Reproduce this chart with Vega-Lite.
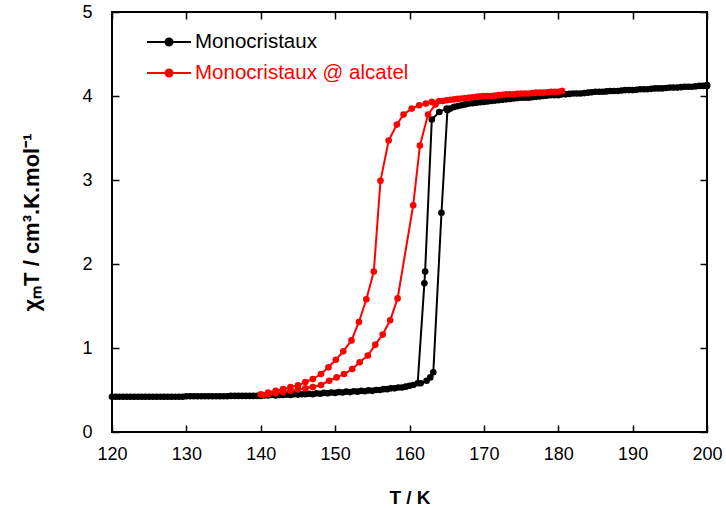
{
  "$schema": "https://vega.github.io/schema/vega-lite/v6.json",
  "width": 595,
  "height": 420,
  "autosize": "none",
  "padding": {"left": 112, "top": 12, "right": 19, "bottom": 76},
  "background": "white",
  "config": {
    "font": "Liberation Sans",
    "view": {"stroke": "#000000", "strokeWidth": 2},
    "axis": {"domain": false, "grid": false, "tickColor": "#000000", "tickWidth": 1.5, "labelColor": "#000000", "titleColor": "#000000", "labelFontSize": 18, "titleFontSize": 19, "titleFontWeight": "bold", "labelFlush": false}
  },
  "datasets": {
    "mono": [
      {"s": "Monocristaux", "T": 200, "v": 4.12}, {"s": "Monocristaux", "T": 199, "v": 4.12}, {"s": "Monocristaux", "T": 198, "v": 4.11}, {"s": "Monocristaux", "T": 197, "v": 4.11}, {"s": "Monocristaux", "T": 196, "v": 4.10}, {"s": "Monocristaux", "T": 195, "v": 4.10}, {"s": "Monocristaux", "T": 194, "v": 4.09}, {"s": "Monocristaux", "T": 193, "v": 4.09}, {"s": "Monocristaux", "T": 192, "v": 4.08}, {"s": "Monocristaux", "T": 191, "v": 4.08}, {"s": "Monocristaux", "T": 190, "v": 4.07}, {"s": "Monocristaux", "T": 189, "v": 4.07}, {"s": "Monocristaux", "T": 188, "v": 4.06}, {"s": "Monocristaux", "T": 187, "v": 4.06}, {"s": "Monocristaux", "T": 186, "v": 4.05}, {"s": "Monocristaux", "T": 185, "v": 4.05}, {"s": "Monocristaux", "T": 184, "v": 4.04}, {"s": "Monocristaux", "T": 183, "v": 4.03}, {"s": "Monocristaux", "T": 182, "v": 4.03}, {"s": "Monocristaux", "T": 181, "v": 4.02}, {"s": "Monocristaux", "T": 180, "v": 4.01}, {"s": "Monocristaux", "T": 179, "v": 4.01}, {"s": "Monocristaux", "T": 178, "v": 4.00}, {"s": "Monocristaux", "T": 177, "v": 3.99}, {"s": "Monocristaux", "T": 176, "v": 3.98}, {"s": "Monocristaux", "T": 175, "v": 3.98}, {"s": "Monocristaux", "T": 174, "v": 3.97}, {"s": "Monocristaux", "T": 173, "v": 3.96}, {"s": "Monocristaux", "T": 172, "v": 3.95}, {"s": "Monocristaux", "T": 171, "v": 3.94}, {"s": "Monocristaux", "T": 170, "v": 3.93}, {"s": "Monocristaux", "T": 169, "v": 3.92}, {"s": "Monocristaux", "T": 168, "v": 3.91}, {"s": "Monocristaux", "T": 167, "v": 3.89}, {"s": "Monocristaux", "T": 166, "v": 3.87}, {"s": "Monocristaux", "T": 165, "v": 3.85}, {"s": "Monocristaux", "T": 164, "v": 3.81}, {"s": "Monocristaux", "T": 163, "v": 3.72}, {"s": "Monocristaux", "T": 162.1, "v": 1.91}, {"s": "Monocristaux", "T": 162.0, "v": 1.77}, {"s": "Monocristaux", "T": 161.1, "v": 0.58}, {"s": "Monocristaux", "T": 160, "v": 0.55}, {"s": "Monocristaux", "T": 159, "v": 0.53}, {"s": "Monocristaux", "T": 158, "v": 0.52}, {"s": "Monocristaux", "T": 157, "v": 0.51}, {"s": "Monocristaux", "T": 156, "v": 0.50}, {"s": "Monocristaux", "T": 155, "v": 0.49}, {"s": "Monocristaux", "T": 154, "v": 0.485}, {"s": "Monocristaux", "T": 153, "v": 0.48}, {"s": "Monocristaux", "T": 152, "v": 0.475}, {"s": "Monocristaux", "T": 151, "v": 0.47}, {"s": "Monocristaux", "T": 150, "v": 0.465}, {"s": "Monocristaux", "T": 149, "v": 0.46}, {"s": "Monocristaux", "T": 148, "v": 0.455}, {"s": "Monocristaux", "T": 147, "v": 0.45}, {"s": "Monocristaux", "T": 146, "v": 0.45}, {"s": "Monocristaux", "T": 145, "v": 0.445}, {"s": "Monocristaux", "T": 144, "v": 0.44}, {"s": "Monocristaux", "T": 143, "v": 0.44}, {"s": "Monocristaux", "T": 142, "v": 0.435}, {"s": "Monocristaux", "T": 141, "v": 0.435}, {"s": "Monocristaux", "T": 140, "v": 0.43}, {"s": "Monocristaux", "T": 139, "v": 0.43}, {"s": "Monocristaux", "T": 138, "v": 0.43}, {"s": "Monocristaux", "T": 137, "v": 0.43}, {"s": "Monocristaux", "T": 136, "v": 0.43}, {"s": "Monocristaux", "T": 135, "v": 0.425}, {"s": "Monocristaux", "T": 134, "v": 0.425}, {"s": "Monocristaux", "T": 133, "v": 0.425}, {"s": "Monocristaux", "T": 132, "v": 0.425}, {"s": "Monocristaux", "T": 131, "v": 0.425}, {"s": "Monocristaux", "T": 130, "v": 0.425}, {"s": "Monocristaux", "T": 129, "v": 0.42}, {"s": "Monocristaux", "T": 128, "v": 0.42}, {"s": "Monocristaux", "T": 127, "v": 0.42}, {"s": "Monocristaux", "T": 126, "v": 0.42}, {"s": "Monocristaux", "T": 125, "v": 0.42}, {"s": "Monocristaux", "T": 124, "v": 0.42}, {"s": "Monocristaux", "T": 123, "v": 0.42}, {"s": "Monocristaux", "T": 122, "v": 0.42}, {"s": "Monocristaux", "T": 121, "v": 0.42}, {"s": "Monocristaux", "T": 120, "v": 0.42},
      {"s": "Monocristaux", "T": 120.5, "v": 0.42}, {"s": "Monocristaux", "T": 121.5, "v": 0.42}, {"s": "Monocristaux", "T": 122.5, "v": 0.42}, {"s": "Monocristaux", "T": 123.5, "v": 0.42}, {"s": "Monocristaux", "T": 124.5, "v": 0.42}, {"s": "Monocristaux", "T": 125.5, "v": 0.42}, {"s": "Monocristaux", "T": 126.5, "v": 0.42}, {"s": "Monocristaux", "T": 127.5, "v": 0.42}, {"s": "Monocristaux", "T": 128.5, "v": 0.42}, {"s": "Monocristaux", "T": 129.5, "v": 0.42}, {"s": "Monocristaux", "T": 130.5, "v": 0.425}, {"s": "Monocristaux", "T": 131.5, "v": 0.425}, {"s": "Monocristaux", "T": 132.5, "v": 0.425}, {"s": "Monocristaux", "T": 133.5, "v": 0.425}, {"s": "Monocristaux", "T": 134.5, "v": 0.425}, {"s": "Monocristaux", "T": 135.5, "v": 0.425}, {"s": "Monocristaux", "T": 136.5, "v": 0.43}, {"s": "Monocristaux", "T": 137.5, "v": 0.43}, {"s": "Monocristaux", "T": 138.5, "v": 0.43}, {"s": "Monocristaux", "T": 139.5, "v": 0.43}, {"s": "Monocristaux", "T": 140.5, "v": 0.435}, {"s": "Monocristaux", "T": 141.5, "v": 0.44}, {"s": "Monocristaux", "T": 142.5, "v": 0.44}, {"s": "Monocristaux", "T": 143.5, "v": 0.445}, {"s": "Monocristaux", "T": 144.5, "v": 0.45}, {"s": "Monocristaux", "T": 145.5, "v": 0.45}, {"s": "Monocristaux", "T": 146.5, "v": 0.455}, {"s": "Monocristaux", "T": 147.5, "v": 0.46}, {"s": "Monocristaux", "T": 148.5, "v": 0.465}, {"s": "Monocristaux", "T": 149.5, "v": 0.47}, {"s": "Monocristaux", "T": 150.5, "v": 0.475}, {"s": "Monocristaux", "T": 151.5, "v": 0.48}, {"s": "Monocristaux", "T": 152.5, "v": 0.485}, {"s": "Monocristaux", "T": 153.5, "v": 0.49}, {"s": "Monocristaux", "T": 154.5, "v": 0.495}, {"s": "Monocristaux", "T": 155.5, "v": 0.50}, {"s": "Monocristaux", "T": 156.5, "v": 0.51}, {"s": "Monocristaux", "T": 157.5, "v": 0.52}, {"s": "Monocristaux", "T": 158.5, "v": 0.53}, {"s": "Monocristaux", "T": 159.5, "v": 0.54}, {"s": "Monocristaux", "T": 160.5, "v": 0.56}, {"s": "Monocristaux", "T": 161.5, "v": 0.58}, {"s": "Monocristaux", "T": 162.3, "v": 0.61}, {"s": "Monocristaux", "T": 162.8, "v": 0.65}, {"s": "Monocristaux", "T": 163.2, "v": 0.71}, {"s": "Monocristaux", "T": 164.3, "v": 2.61}, {"s": "Monocristaux", "T": 165.1, "v": 3.83}, {"s": "Monocristaux", "T": 165.5, "v": 3.85}, {"s": "Monocristaux", "T": 166.5, "v": 3.88}, {"s": "Monocristaux", "T": 167.5, "v": 3.90}, {"s": "Monocristaux", "T": 168.5, "v": 3.915}, {"s": "Monocristaux", "T": 169.5, "v": 3.925}, {"s": "Monocristaux", "T": 170.5, "v": 3.935}, {"s": "Monocristaux", "T": 171.5, "v": 3.945}, {"s": "Monocristaux", "T": 172.5, "v": 3.955}, {"s": "Monocristaux", "T": 173.5, "v": 3.965}, {"s": "Monocristaux", "T": 174.5, "v": 3.975}, {"s": "Monocristaux", "T": 175.5, "v": 3.98}, {"s": "Monocristaux", "T": 176.5, "v": 3.985}, {"s": "Monocristaux", "T": 177.5, "v": 3.995}, {"s": "Monocristaux", "T": 178.5, "v": 4.005}, {"s": "Monocristaux", "T": 179.5, "v": 4.01}, {"s": "Monocristaux", "T": 180.5, "v": 4.02}, {"s": "Monocristaux", "T": 181.5, "v": 4.025}, {"s": "Monocristaux", "T": 182.5, "v": 4.03}, {"s": "Monocristaux", "T": 183.5, "v": 4.035}, {"s": "Monocristaux", "T": 184.5, "v": 4.045}, {"s": "Monocristaux", "T": 185.5, "v": 4.05}, {"s": "Monocristaux", "T": 186.5, "v": 4.055}, {"s": "Monocristaux", "T": 187.5, "v": 4.06}, {"s": "Monocristaux", "T": 188.5, "v": 4.065}, {"s": "Monocristaux", "T": 189.5, "v": 4.07}, {"s": "Monocristaux", "T": 190.5, "v": 4.075}, {"s": "Monocristaux", "T": 191.5, "v": 4.08}, {"s": "Monocristaux", "T": 192.5, "v": 4.085}, {"s": "Monocristaux", "T": 193.5, "v": 4.09}, {"s": "Monocristaux", "T": 194.5, "v": 4.095}, {"s": "Monocristaux", "T": 195.5, "v": 4.10}, {"s": "Monocristaux", "T": 196.5, "v": 4.105}, {"s": "Monocristaux", "T": 197.5, "v": 4.11}, {"s": "Monocristaux", "T": 198.5, "v": 4.115}, {"s": "Monocristaux", "T": 199.5, "v": 4.12}, {"s": "Monocristaux", "T": 200, "v": 4.13}
    ],
    "alc": [
      {"s": "Monocristaux @ alcatel", "T": 180.5, "v": 4.06}, {"s": "Monocristaux @ alcatel", "T": 180, "v": 4.05}, {"s": "Monocristaux @ alcatel", "T": 179, "v": 4.05}, {"s": "Monocristaux @ alcatel", "T": 178, "v": 4.04}, {"s": "Monocristaux @ alcatel", "T": 177, "v": 4.04}, {"s": "Monocristaux @ alcatel", "T": 176, "v": 4.03}, {"s": "Monocristaux @ alcatel", "T": 175, "v": 4.03}, {"s": "Monocristaux @ alcatel", "T": 174, "v": 4.02}, {"s": "Monocristaux @ alcatel", "T": 173, "v": 4.02}, {"s": "Monocristaux @ alcatel", "T": 172, "v": 4.01}, {"s": "Monocristaux @ alcatel", "T": 171, "v": 4.00}, {"s": "Monocristaux @ alcatel", "T": 170, "v": 4.00}, {"s": "Monocristaux @ alcatel", "T": 169, "v": 3.99}, {"s": "Monocristaux @ alcatel", "T": 168, "v": 3.98}, {"s": "Monocristaux @ alcatel", "T": 167, "v": 3.97}, {"s": "Monocristaux @ alcatel", "T": 166, "v": 3.96}, {"s": "Monocristaux @ alcatel", "T": 165, "v": 3.95}, {"s": "Monocristaux @ alcatel", "T": 164, "v": 3.94}, {"s": "Monocristaux @ alcatel", "T": 163, "v": 3.93}, {"s": "Monocristaux @ alcatel", "T": 162.2, "v": 3.91}, {"s": "Monocristaux @ alcatel", "T": 161.3, "v": 3.89}, {"s": "Monocristaux @ alcatel", "T": 160.3, "v": 3.85}, {"s": "Monocristaux @ alcatel", "T": 159.2, "v": 3.78}, {"s": "Monocristaux @ alcatel", "T": 158.3, "v": 3.66}, {"s": "Monocristaux @ alcatel", "T": 157.2, "v": 3.47}, {"s": "Monocristaux @ alcatel", "T": 156.1, "v": 2.99}, {"s": "Monocristaux @ alcatel", "T": 155.2, "v": 1.91}, {"s": "Monocristaux @ alcatel", "T": 154.2, "v": 1.58}, {"s": "Monocristaux @ alcatel", "T": 153.2, "v": 1.31}, {"s": "Monocristaux @ alcatel", "T": 152.2, "v": 1.09}, {"s": "Monocristaux @ alcatel", "T": 151.1, "v": 0.96}, {"s": "Monocristaux @ alcatel", "T": 150.1, "v": 0.86}, {"s": "Monocristaux @ alcatel", "T": 149.1, "v": 0.77}, {"s": "Monocristaux @ alcatel", "T": 148.1, "v": 0.69}, {"s": "Monocristaux @ alcatel", "T": 147.0, "v": 0.63}, {"s": "Monocristaux @ alcatel", "T": 146.0, "v": 0.595}, {"s": "Monocristaux @ alcatel", "T": 145.0, "v": 0.555}, {"s": "Monocristaux @ alcatel", "T": 144.0, "v": 0.535}, {"s": "Monocristaux @ alcatel", "T": 143, "v": 0.51}, {"s": "Monocristaux @ alcatel", "T": 142, "v": 0.49}, {"s": "Monocristaux @ alcatel", "T": 141, "v": 0.47}, {"s": "Monocristaux @ alcatel", "T": 140, "v": 0.45},
      {"s": "Monocristaux @ alcatel", "T": 140.3, "v": 0.44}, {"s": "Monocristaux @ alcatel", "T": 141, "v": 0.45}, {"s": "Monocristaux @ alcatel", "T": 142, "v": 0.46}, {"s": "Monocristaux @ alcatel", "T": 143, "v": 0.475}, {"s": "Monocristaux @ alcatel", "T": 144, "v": 0.49}, {"s": "Monocristaux @ alcatel", "T": 145, "v": 0.505}, {"s": "Monocristaux @ alcatel", "T": 146, "v": 0.52}, {"s": "Monocristaux @ alcatel", "T": 147, "v": 0.535}, {"s": "Monocristaux @ alcatel", "T": 148.1, "v": 0.56}, {"s": "Monocristaux @ alcatel", "T": 149.2, "v": 0.61}, {"s": "Monocristaux @ alcatel", "T": 150.2, "v": 0.65}, {"s": "Monocristaux @ alcatel", "T": 151.2, "v": 0.69}, {"s": "Monocristaux @ alcatel", "T": 152.3, "v": 0.75}, {"s": "Monocristaux @ alcatel", "T": 153.3, "v": 0.83}, {"s": "Monocristaux @ alcatel", "T": 154.4, "v": 0.91}, {"s": "Monocristaux @ alcatel", "T": 155.4, "v": 1.04}, {"s": "Monocristaux @ alcatel", "T": 156.4, "v": 1.16}, {"s": "Monocristaux @ alcatel", "T": 157.4, "v": 1.33}, {"s": "Monocristaux @ alcatel", "T": 158.4, "v": 1.59}, {"s": "Monocristaux @ alcatel", "T": 160.5, "v": 2.70}, {"s": "Monocristaux @ alcatel", "T": 161.4, "v": 3.41}, {"s": "Monocristaux @ alcatel", "T": 162.5, "v": 3.78}, {"s": "Monocristaux @ alcatel", "T": 163.5, "v": 3.90}, {"s": "Monocristaux @ alcatel", "T": 164.5, "v": 3.94}, {"s": "Monocristaux @ alcatel", "T": 165.5, "v": 3.955}, {"s": "Monocristaux @ alcatel", "T": 166.5, "v": 3.965}, {"s": "Monocristaux @ alcatel", "T": 167.5, "v": 3.975}, {"s": "Monocristaux @ alcatel", "T": 168.5, "v": 3.985}, {"s": "Monocristaux @ alcatel", "T": 169.5, "v": 3.995}, {"s": "Monocristaux @ alcatel", "T": 170.5, "v": 4.00}, {"s": "Monocristaux @ alcatel", "T": 171.5, "v": 4.005}, {"s": "Monocristaux @ alcatel", "T": 172.5, "v": 4.015}, {"s": "Monocristaux @ alcatel", "T": 173.5, "v": 4.02}, {"s": "Monocristaux @ alcatel", "T": 174.5, "v": 4.025}, {"s": "Monocristaux @ alcatel", "T": 175.5, "v": 4.03}, {"s": "Monocristaux @ alcatel", "T": 176.5, "v": 4.035}, {"s": "Monocristaux @ alcatel", "T": 177.5, "v": 4.04}, {"s": "Monocristaux @ alcatel", "T": 178.5, "v": 4.045}, {"s": "Monocristaux @ alcatel", "T": 179.5, "v": 4.05}, {"s": "Monocristaux @ alcatel", "T": 180.5, "v": 4.06}
    ]
  },
  "layer": [
    {
      "data": {"name": "mono"},
      "mark": {"type": "line", "strokeWidth": 2, "point": {"filled": true, "size": 44}},
      "encoding": {
        "x": {"field": "T", "type": "quantitative", "scale": {"domain": [120, 200], "nice": false, "zero": false},
              "axis": {"orient": "bottom", "values": [120, 130, 140, 150, 160, 170, 180, 190, 200], "tickSize": -7, "labelPadding": 20, "title": "T / K", "titlePadding": 25}},
        "y": {"field": "v", "type": "quantitative", "scale": {"domain": [0, 5], "nice": false},
              "axis": {"orient": "left", "values": [0, 1, 2, 3, 4, 5], "tickSize": -7, "labelPadding": 27, "title": "χₘT / cm³.K.mol⁻¹", "titlePadding": 38, "titleFontSize": 22}},
        "color": {"field": "s", "type": "nominal",
                  "scale": {"domain": ["Monocristaux", "Monocristaux @ alcatel"], "range": ["#000000", "#ff0000"]},
                  "legend": {"orient": "none", "legendX": 45, "legendY": 18, "title": null, "padding": 0,
                             "symbolType": "M-2,0H2M-0.32,0A0.32,0.32 0 1,0 0.32,0A0.32,0.32 0 1,0 -0.32,0Z",
                             "symbolSize": 484, "labelOffset": 14, "labelFontSize": 20.5, "rowPadding": 8, "labelLimit": 400,
                             "encode": {
                               "symbols": {"update": {"fill": {"signal": "datum.value === 'Monocristaux' ? '#000000' : '#ff0000'"}, "stroke": {"signal": "datum.value === 'Monocristaux' ? '#000000' : '#ff0000'"}, "strokeWidth": {"value": 2}, "opacity": {"value": 1}}},
                               "labels": {"update": {"fill": {"signal": "datum.value === 'Monocristaux' ? '#000000' : '#ff0000'"}}}
                             }}},
        "order": {"value": null}
      }
    },
    {
      "data": {"name": "alc"},
      "mark": {"type": "line", "strokeWidth": 2, "point": {"filled": true, "size": 44}},
      "encoding": {
        "x": {"field": "T", "type": "quantitative",
              "axis": {"orient": "top", "values": [120, 130, 140, 150, 160, 170, 180, 190, 200], "tickSize": -7, "labels": false, "title": null}},
        "y": {"field": "v", "type": "quantitative",
              "axis": {"orient": "right", "values": [0, 1, 2, 3, 4, 5], "tickSize": -7, "labels": false, "title": null}},
        "color": {"field": "s", "type": "nominal"},
        "order": {"value": null}
      }
    }
  ],
  "resolve": {"axis": {"x": "independent", "y": "independent"}}
}
